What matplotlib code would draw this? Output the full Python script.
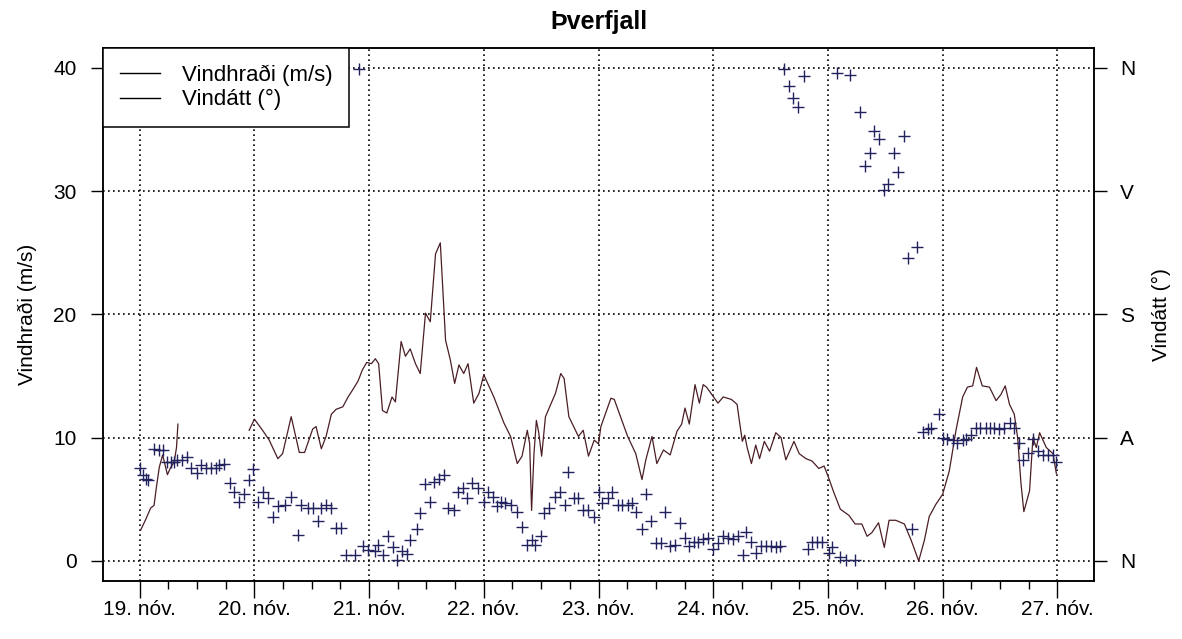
import numpy as np
import matplotlib.pyplot as plt
from matplotlib.lines import Line2D

plt.rcParams['font.family'] = ['Liberation Sans', 'DejaVu Sans']

# Vindhraði: klst. frá 19. nóv kl. 00, m/s (nan = gögn vantar)
speed_hours = [
    0.2, 1.3, 2.3, 3.0, 3.5, 4.1, 4.8, 5.8, 6.5, 7.2, 7.7, 8.0,
    15.0,
    22.9, 24.0, 25.7, 27.1, 28.9, 29.9, 31.7, 33.4, 34.5, 36.2, 36.9, 38.0,
    39.0, 40.1, 41.1, 42.5, 43.6, 44.6, 45.7, 46.6, 47.5, 48.5, 49.3, 50.0,
    50.8, 51.7, 52.8, 53.5, 54.7, 55.6, 56.6, 57.7, 58.7, 59.8, 60.8, 61.9,
    62.9, 63.4, 64.0, 65.0, 65.9, 66.8, 67.8, 68.7, 69.9, 71.0, 72.0, 74.1,
    76.2, 77.6, 79.0, 80.0, 81.1, 81.6, 82.0, 82.5, 83.0, 83.5, 84.1, 84.9,
    87.0, 88.1, 88.8, 89.8, 91.8, 92.8, 93.9, 95.1, 96.0, 96.5, 98.6, 99.3,
    102.1, 103.8, 105.1, 105.9, 107.2, 108.2, 109.6, 111.0, 112.4, 113.4,
    114.1, 115.0, 116.2, 117.1, 117.9, 118.6, 119.7, 121.0, 122.1, 123.8,
    125.0, 125.5, 126.1, 126.6, 127.1, 128.0, 128.9, 129.7, 130.7, 131.8,
    133.1, 134.2, 135.2, 136.9, 138.0, 139.4, 140.7, 142.1, 143.2, 144.2,
    145.2, 146.6, 148.4, 149.7, 151.1, 152.2, 153.2, 154.6, 155.8, 156.8,
    158.2, 160.0, 161.4, 163.0, 164.2, 165.2, 166.6, 168.0, 169.4, 170.8,
    172.2, 173.2, 174.3, 175.1, 176.3, 177.8, 179.2, 180.2, 181.1, 182.0,
    183.0, 183.7, 184.4, 185.0, 186.2, 186.9, 187.6, 188.3, 189.7, 191.1,
    191.8,
]
speed_ms = [
    2.5, 3.4, 4.3, 4.5, 6.0, 7.6, 8.6, 7.0, 7.6, 8.0, 9.2, 11.1,
    np.nan,
    10.6, 11.5, 10.6, 9.8, 8.3, 8.7, 11.7, 8.8, 8.8, 10.7, 10.9, 9.1,
    10.1, 11.9, 12.3, 12.5, 13.3, 13.9, 14.6, 15.5, 16.1, 16.0, 16.4, 16.0,
    12.2, 12.0, 13.3, 12.9, 17.8, 16.6, 17.2, 16.0, 15.2, 20.1, 19.4, 24.9,
    25.8, 22.2, 17.9, 16.3, 14.4, 15.9, 15.2, 16.0, 12.8, 13.6, 15.1, 13.3,
    11.2, 10.1, 7.9, 8.5, 10.6, 9.5, 4.1, 8.7, 11.4, 10.4, 8.5, 11.7,
    13.6, 15.2, 14.8, 11.7, 10.1, 10.6, 8.5, 9.8, 9.5, 10.9, 13.2, 13.1,
    10.1, 8.7, 6.6, 8.2, 10.1, 7.9, 9.0, 8.6, 10.5, 11.1,
    12.4, 11.1, 14.3, 12.8, 14.3, 14.1, 13.5, 12.8, 13.3, 13.1,
    12.7, 11.3, 9.7, 10.2, 9.2, 7.9, 9.4, 8.3, 9.7, 8.9,
    10.4, 10.0, 8.2, 9.7, 8.7, 8.3, 8.1, 7.5, 7.7, 6.7,
    5.6, 4.2, 3.7, 3.0, 3.0, 2.0, 2.3, 3.1, 1.1, 3.3,
    3.3, 3.0, 1.7, 0.0, 1.7, 3.6, 4.6, 5.4, 7.3, 10.6,
    13.3, 14.1, 14.2, 15.7, 14.2, 14.1, 13.0, 13.5, 14.2, 12.7,
    11.9, 10.0, 6.3, 4.0, 5.7, 10.0, 9.2, 10.4, 9.2, 8.7,
    7.1,
]

# Vindátt: klst. frá 19. nóv kl. 00, gráður
dir_hours = [
    0.0, 0.6, 1.3, 1.8, 3.0, 4.1, 4.9, 5.8, 6.5, 7.2, 7.7, 8.8, 10.0, 10.7,
    11.9, 12.8, 13.8, 14.9, 15.9, 16.6, 17.7, 18.9, 19.8, 20.8, 21.9, 22.8,
    23.8, 24.7, 25.7, 26.8, 27.8, 28.9, 30.3, 31.7, 33.1, 33.8, 35.2, 36.2,
    37.3, 38.0, 39.0, 40.1, 41.1, 42.2, 43.2, 45.0, 45.8, 46.7, 47.8, 49.2,
    49.9, 50.9, 51.9, 52.9, 53.9, 54.9, 55.9, 56.6, 58.0, 58.7, 59.8, 60.8,
    61.5, 62.6, 63.6, 64.6, 65.7, 66.6, 67.6, 68.5, 69.6, 70.8, 72.0, 72.9,
    73.9, 74.8, 75.5, 76.5, 77.6, 79.0, 79.9, 81.1, 82.0, 82.7, 83.9, 84.6,
    85.6, 86.9, 87.9, 89.0, 89.7, 90.9, 91.8, 92.8, 93.9, 95.1, 96.0, 96.8,
    97.9, 98.9, 100.0, 101.0, 102.1, 103.0, 103.8, 105.1, 105.9, 107.0,
    108.0, 109.1, 110.0, 111.0, 112.1, 113.1, 114.1, 115.0, 115.9, 116.9,
    117.9, 119.0, 120.0, 121.0, 122.1, 123.1, 124.1, 125.2, 126.2, 126.9,
    128.0, 129.0, 130.0, 131.1, 132.1, 133.1, 134.0, 134.9, 135.8, 136.8,
    137.8, 139.0, 139.9, 140.7, 141.8, 142.7, 144.2, 144.8, 145.9, 146.6,
    147.7, 148.7, 149.7, 150.8, 151.7, 152.8, 153.7, 154.6, 155.8, 156.5,
    157.8, 158.7, 159.9, 160.7, 161.7, 162.7, 163.8, 164.9, 165.6, 167.2,
    168.0, 169.0, 170.1, 171.1, 172.2, 173.0, 173.9, 174.9, 175.8, 177.0,
    177.9, 178.8, 179.9, 180.9, 182.0, 183.0, 183.9, 184.8, 185.8, 186.9,
    187.9, 189.0, 190.0, 191.1, 191.8,
]
dir_deg = [
    68, 63, 60, 59, 82, 81, 81, 72, 72, 72, 74, 74, 76, 68,
    64, 70, 68, 68, 68, 70, 71, 57, 50, 43, 49, 59,
    67, 43, 50, 46, 32, 40, 41, 47, 19, 41, 39, 39,
    29, 39, 41, 39, 24, 24, 4, 4, 359, 11, 8, 7,
    12, 4, 18, 10, 1, 7, 5, 15, 23, 35, 56, 43,
    58, 60, 63, 39, 37, 50, 53, 46, 57, 53, 43, 50,
    47, 40, 43, 42, 41, 36, 25, 12, 15, 12, 18, 35,
    39, 47, 50, 41, 65, 46, 46, 37, 37, 32, 50, 42,
    46, 50, 41, 41, 41, 42, 36, 23, 49, 29,
    13, 13, 36, 11, 12, 28, 17, 11, 14, 14,
    16, 17, 9, 13, 18, 17, 16, 18, 4, 21,
    14, 6, 11, 11, 11, 10, 11, 359, 347, 338,
    331, 354, 9, 14, 14, 14, 6, 10, 356, 3,
    1, 355, 1, 328, 288, 298, 314, 308, 271, 275,
    298, 284, 310, 221, 23, 229, 94, 96, 97, 107,
    90, 89, 88, 86, 88, 89, 92, 97, 97, 97,
    97, 97, 96, 97, 101, 97, 86, 74, 79, 89,
    80, 77, 77, 77, 72,
]

day_labels = ['19. nóv.', '20. nóv.', '21. nóv.', '22. nóv.', '23. nóv.',
              '24. nóv.', '25. nóv.', '26. nóv.', '27. nóv.']
compass = ['N', 'A', 'S', 'V', 'N']

W, H = 1182, 639
fig = plt.figure(figsize=(W / 100, H / 100), dpi=100)
ax = fig.add_axes([103 / W, 1 - 580.7 / H, (1094 - 103) / W, (580.7 - 48) / H])

ax.plot(speed_hours, speed_ms, color='#4a1e24', lw=0.9)
ax.set_xlim(-7.68, 199.68)
ax.set_ylim(-1.6, 41.6)

ax.set_xticks(np.arange(0, 193, 24))
ax.set_xticklabels(day_labels, fontsize=15)
ax.set_xticks(np.arange(0, 193, 6), minor=True)
ax.tick_params(axis='x', which='major', length=12, width=1, pad=2)
ax.tick_params(axis='x', which='minor', length=6, width=1)
ax.set_yticks([0, 10, 20, 30, 40])
ax.tick_params(axis='y', length=9, width=1, pad=10, labelsize=15)
ax.grid(True, which='major', color='black', linestyle=(0, (1, 2)), lw=1.2)
ax.set_axisbelow(True)
ax.set_ylabel('Vindhraði (m/s)', fontsize=15, labelpad=12)
ax.set_title('Þverfjall', fontsize=18, fontweight='bold', pad=14)
for s in ax.spines.values():
    s.set_linewidth(1.1)

ax2 = ax.twinx()
ax2.plot(dir_hours, dir_deg, '+', color='#22225e', ms=8, mew=1)
ax2.set_ylim(-1.6 * 9, 41.6 * 9)
ax2.set_yticks([0, 90, 180, 270, 360])
ax2.set_yticklabels(compass)
ax2.tick_params(axis='y', length=9, width=1, pad=10, labelsize=15)
ax2.set_ylabel('Vindátt (°)', fontsize=15, labelpad=12)
for s in ax2.spines.values():
    s.set_linewidth(1.1)

handles = [Line2D([], [], color='black', lw=1), Line2D([], [], color='black', lw=1)]
leg = ax2.legend(handles, ['Vindhraði (m/s)', 'Vindátt (°)'], loc='upper left',
                 bbox_to_anchor=(0, 1), borderaxespad=0, fancybox=False,
                 edgecolor='black', framealpha=1, fontsize=16, handlelength=1.8,
                 handletextpad=1.0, borderpad=0.75, labelspacing=0.15)
leg.get_frame().set_linewidth(1.1)

fig.savefig('out.png', dpi=100)
